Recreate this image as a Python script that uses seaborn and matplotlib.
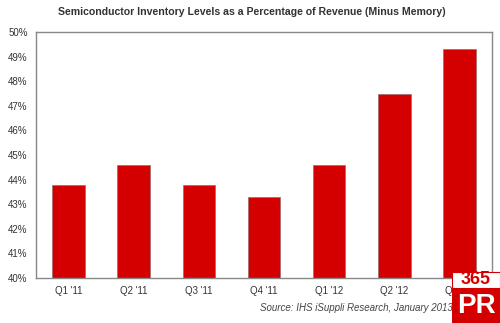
import matplotlib
matplotlib.use("Agg")
import matplotlib.pyplot as plt
import seaborn as sns
import pandas as pd
from matplotlib.patches import Rectangle
from matplotlib.ticker import FuncFormatter

quarters = ["Q1 '11", "Q2 '11", "Q3 '11", "Q4 '11", "Q1 '12", "Q2 '12", "Q3 '12"]
values = [43.8, 44.6, 43.8, 43.3, 44.6, 47.5, 49.3]
title = "Semiconductor Inventory Levels as a Percentage of Revenue (Minus Memory)"
source = "Source: IHS iSuppli Research, January 2013"

sns.set_theme(style="white")
plt.rcParams['font.family'] = ['Liberation Sans', 'DejaVu Sans']

df = pd.DataFrame({"quarter": quarters, "value": values})

fig = plt.figure(figsize=(5.0, 3.23), dpi=100)
ax = fig.add_axes([36/500, 1-278/323, (492-36)/500, (278-32)/323])
sns.barplot(data=df, x="quarter", y="value", color="#d40000", saturation=1,
            width=0.5, ax=ax, edgecolor="#9a6a6a", linewidth=0.5)
ax.set_ylim(40, 50)
ax.set_xlim(-0.5, 6.5)
ax.set_yticks(range(40, 51))
ax.yaxis.set_major_formatter(FuncFormatter(lambda v, p: f"{int(v)}%"))
ax.set_xlabel("")
ax.set_ylabel("")
ax.tick_params(axis='both', labelsize=7, colors="#333333", length=0, pad=6)
for s in ax.spines.values():
    s.set_color("#888888")
    s.set_linewidth(1.0)

fig.text(252/500, 1-12/323, title, ha="center", va="center", fontsize=7.6,
         fontweight="bold", color="#333333")
fig.text(453/500, 1-308/323, source, ha="right", va="center", fontsize=7,
         style="italic", color="#444444")

# watermark logo
fig.patches.append(Rectangle((452/500, 0), 48/500, 35/323, transform=fig.transFigure,
                             facecolor="#d40000", edgecolor="none", zorder=5))
fig.patches.append(Rectangle((452/500, 35/323), 48/500, 16/323, transform=fig.transFigure,
                             facecolor="white", edgecolor="#d40000", linewidth=0.8, zorder=5))
fig.text(476/500, 1-280/323, "365", ha="center", va="center", fontsize=13,
         fontweight="bold", color="#d40000", zorder=6)
fig.text(476/500, 1-306/323, "PR", ha="center", va="center", fontsize=20,
         fontweight="bold", color="white", zorder=6)

fig.savefig("out.png", dpi=100, facecolor="white")
